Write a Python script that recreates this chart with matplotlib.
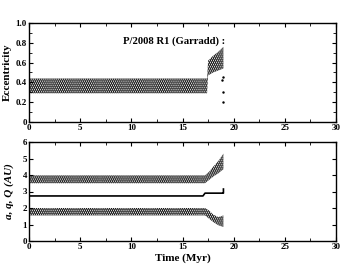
import numpy as np
import matplotlib.pyplot as plt
from matplotlib.ticker import MultipleLocator, FuncFormatter

plt.rcParams['font.family'] = 'Liberation Serif'
plt.rcParams['font.weight'] = 'bold'
plt.rcParams['hatch.linewidth'] = 1.3

# eccentricity cloud envelope (Myr, lower, upper)
t_e = [0, 17.4, 17.5, 18.0, 18.5, 19.0]
e_lo = [0.29, 0.29, 0.47, 0.50, 0.52, 0.54]
e_hi = [0.44, 0.44, 0.62, 0.67, 0.71, 0.76]
# stray points after the jump
t_stray = [19.0, 19.0, 19.0, 18.9]
e_stray = [0.45, 0.30, 0.20, 0.42]

# a, q, Q
t_Q = [0, 17.2, 17.6, 18.0, 18.5, 19.0]
Q_lo = [3.50, 3.50, 3.70, 3.90, 4.10, 4.35]
Q_hi = [3.98, 3.98, 4.20, 4.50, 4.85, 5.30]
t_q = [0, 17.2, 17.6, 18.0, 18.5, 19.0]
q_lo = [1.55, 1.55, 1.35, 1.15, 0.95, 0.85]
q_hi = [2.00, 2.00, 1.85, 1.60, 1.45, 1.55]
t_a = [0, 17.0, 17.2, 18.9, 19.0, 19.0]
a_val = [2.73, 2.73, 2.90, 2.90, 2.90, 3.15]

fig = plt.figure(figsize=(3.46, 2.69), dpi=100)
ax1 = fig.add_axes([29/346, 1-122/269, 307/346, 99/269])
ax2 = fig.add_axes([29/346, 1-241/269, 307/346, 99/269])

def band(ax, t, lo, hi):
    ax.fill_between(t, lo, hi, facecolor='none', edgecolor='k', lw=0, hatch='........')

band(ax1, t_e, e_lo, e_hi)
ax1.plot(t_stray, e_stray, 'k.', ms=1.5)
ax1.set_ylim(0, 1.0)
ax1.set_ylabel('Eccentricity', fontsize=8, fontweight='bold', labelpad=3)
ax1.yaxis.set_major_locator(MultipleLocator(0.2))
ax1.yaxis.set_minor_locator(MultipleLocator(0.1))
ax1.yaxis.set_major_formatter(FuncFormatter(lambda v, p: '0' if abs(v) < 1e-9 else '%.1f' % v))
ax1.text(0.306, 0.79, 'P/2008 R1 (Garradd) :', transform=ax1.transAxes, fontsize=7.7, fontweight='bold')

band(ax2, t_Q, Q_lo, Q_hi)
band(ax2, t_q, q_lo, q_hi)
ax2.plot(t_a, a_val, 'k-', lw=1.2)
ax2.set_ylim(0, 6)
ax2.yaxis.set_major_locator(MultipleLocator(1))
ax2.set_ylabel('a, q, Q (AU)', fontsize=8, fontstyle='italic', fontweight='bold', labelpad=6)
ax2.set_xlabel('Time (Myr)', fontsize=8, fontweight='bold', labelpad=2)

for ax in (ax1, ax2):
    ax.set_xlim(0, 30)
    ax.xaxis.set_major_locator(MultipleLocator(5))
    ax.xaxis.set_minor_locator(MultipleLocator(2.5))
    ax.tick_params(which='both', direction='in', top=True, right=True, labelsize=6.5, pad=1.5)
    ax.tick_params(which='major', length=3)
    ax.tick_params(which='minor', length=2)
    for s in ax.spines.values():
        s.set_linewidth(1.0)

fig.savefig('out.png', dpi=100)
